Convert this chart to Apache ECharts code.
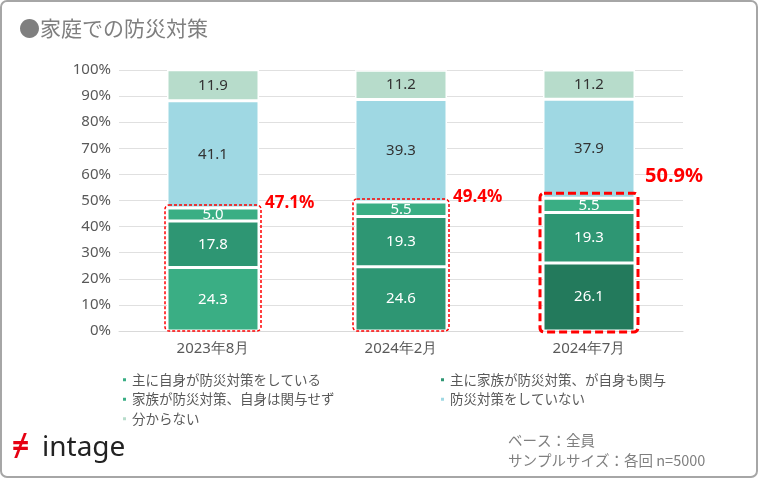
<!DOCTYPE html><html><head><meta charset="utf-8"><script src="https://cdn.jsdelivr.net/npm/echarts@6/dist/echarts.min.js"></script>
<style>body{margin:0}#c{width:780px;height:488px}</style></head><body><div id="c"></div><script>
const categories=['2023年8月','2024年2月','2024年7月'];
const names=['主に自身が防災対策をしている','主に家族が防災対策、が自身も関与','家族が防災対策、自身は関与せず','防災対策をしていない','分からない'];
const s1=[24.3,24.6,26.1];
const s2=[17.8,19.3,19.3];
const s3=[5.0,5.5,5.5];
const s4=[41.1,39.3,37.9];
const s5=[11.9,11.2,11.2];
const totals=['47.1%','49.4%','50.9%'];
const c1=['#3aae84','#2e9673','#237a5c'];
const c2=['#2e9673','#2e9673','#2e9673'];
const chart=echarts.init(document.getElementById('c'));
const ser=(name,data,col)=>({name,type:'bar',stack:'a',barWidth:92,data:data.map((v,i)=>({value:v,itemStyle:{color:Array.isArray(col)?col[i]:col}})),
 itemStyle:{color:Array.isArray(col)?col[0]:col,borderColor:'#fff',borderWidth:1.5},
 label:{show:true,color:name===names[3]||name===names[4]?'#333':'#fff',fontSize:15,fontFamily:'Noto Sans',formatter:p=>p.value.toFixed(1)}});
chart.setOption({
 animation:false,
 grid:{left:119,right:97,top:70,bottom:157},
 title:{text:'●家庭での防災対策',left:14,top:13,textStyle:{color:'#7f7f7f',fontSize:21,fontWeight:'normal',fontFamily:'Noto Sans CJK JP'}},
 legend:[{data:[names[0],names[2],names[4]],orient:'vertical',left:116,top:368,itemWidth:5,itemHeight:5,itemGap:6,icon:'rect',textStyle:{color:'#595959',fontSize:13.5,fontFamily:'Noto Sans CJK JP'}},
 {data:[names[1],names[3]],orient:'vertical',left:434,top:368,itemWidth:5,itemHeight:5,itemGap:6,icon:'rect',textStyle:{color:'#595959',fontSize:13.5,fontFamily:'Noto Sans CJK JP'}}],
 xAxis:{type:'category',data:categories,axisTick:{show:false},axisLine:{lineStyle:{color:'#d9d9d9'}},axisLabel:{color:'#595959',fontSize:15,fontFamily:'Noto Sans',margin:10}},
 yAxis:{type:'value',min:0,max:100,interval:10,axisLabel:{color:'#595959',fontSize:15,formatter:v=>v+'%',fontFamily:'Noto Sans'},splitLine:{lineStyle:{color:'#e0e0e0'}}},
 series:[ser(names[0],s1,c1),ser(names[1],s2,c2),ser(names[2],s3,'#3aae84'),ser(names[3],s4,'#9fd8e3'),ser(names[4],s5,'#b7dccb')]
});
const g=[{type:'rect',shape:{x:1,y:1,width:756,height:476,r:6},style:{fill:'none',stroke:'#a6a6a6',lineWidth:2},z:-1},
 {type:'text',left:42,top:434,style:{text:'intage',fill:'#222',font:'28px Noto Sans'}},
 {type:'text',left:12,top:432,style:{text:'≠',fill:'#e60012',font:'bold 30px Noto Sans'}},
 {type:'text',left:508,top:430,style:{text:'ベース：全員\nサンプルサイズ：各回 n=5000',fill:'#7f7f7f',font:'14.5px Noto Sans CJK JP',lineHeight:20}}];
for(let i=0;i<3;i++){
 const top=s1[i]+s2[i]+s3[i];
 const pt=chart.convertToPixel({seriesIndex:0},[i,top]);
 const pb=chart.convertToPixel({seriesIndex:0},[i,0]);
 const thick=i===2;
 const w=thick?98:96;
 g.push({type:'rect',shape:{x:pt[0]-w/2,y:pt[1]-(thick?5:3),width:w,height:pb[1]-pt[1]+(thick?6:3),r:4},style:{fill:'none',stroke:'#ff0000',lineWidth:thick?3:1.5,lineDash:thick?[8,4]:[3,2]},z:10});
 g.push({type:'text',x:pt[0]+(thick?56:52),y:pt[1]-(thick?32:13),style:{text:totals[i],fill:'#ff0000',font:thick?'bold 20px Noto Sans':'bold 17px Noto Sans'},z:10});
}
chart.setOption({graphic:g});
</script></body></html>
